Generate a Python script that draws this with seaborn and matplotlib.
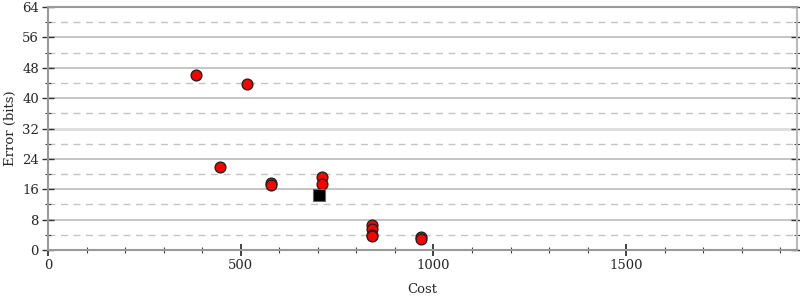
import matplotlib
matplotlib.use("Agg")
import matplotlib.pyplot as plt
import seaborn as sns
import pandas as pd
from matplotlib.ticker import MultipleLocator

sns.set_theme(style="white")
plt.rcParams['font.family'] = ['DejaVu Serif']

# Data
cost_red = [384, 516, 446, 579, 579, 711, 711, 841, 841, 841, 841, 968, 968]
error_red = [46.1, 43.7, 21.9, 17.6, 17.2, 19.2, 17.4, 6.5, 5.5, 3.9, 3.7, 3.5, 2.9]
cost_black = [703]
error_black = [14.5]

df = pd.DataFrame({
    "Cost": cost_red + cost_black,
    "Error": error_red + error_black,
    "kind": ["red"] * len(cost_red) + ["black"] * len(cost_black),
})

fig = plt.figure(figsize=(8, 3), dpi=100)
ax = fig.add_axes([48/800, 50/300, 749/800, 243/300])

# grid
for y in range(0, 65, 8):
    c = "#dddddd" if y == 32 else "#bbbbbb"
    lw = 2.0 if y == 32 else 1.2
    ax.axhline(y, color=c, lw=lw, zorder=0)
for y in range(4, 64, 8):
    ax.axhline(y, color="#c4c4c4", lw=1.0, ls=(0, (5, 4)), zorder=0)

sns.scatterplot(data=df[df.kind == "red"], x="Cost", y="Error", ax=ax,
                color="#ff0000", edgecolor="#222222", linewidth=1.0, s=60,
                marker="o", zorder=3, legend=False)
sns.scatterplot(data=df[df.kind == "black"], x="Cost", y="Error", ax=ax,
                color="#000000", edgecolor="#666666", linewidth=0.8, s=80,
                marker="s", zorder=3, legend=False)

ax.set_xlim(0, 1943)
ax.set_ylim(0, 64)
ax.xaxis.set_major_locator(MultipleLocator(500))
ax.xaxis.set_minor_locator(MultipleLocator(100))
ax.yaxis.set_major_locator(MultipleLocator(8))
ax.yaxis.set_minor_locator(MultipleLocator(4))

ax.tick_params(axis="x", which="major", direction="inout", length=9, width=1.2,
               color="#222222", labelsize=9.5, pad=2, bottom=True, top=False)
ax.tick_params(axis="x", which="minor", direction="inout", length=5, width=0.8,
               color="#444444", bottom=True, top=False)
ax.tick_params(axis="y", which="major", direction="inout", length=9, width=1.0,
               color="#333333", labelsize=9.5, pad=2, left=True, right=True)
ax.tick_params(axis="y", which="minor", direction="inout", length=5, width=0.8,
               color="#444444", left=True, right=True)

for s in ["left", "bottom", "top"]:
    ax.spines[s].set_color("#999999")
    ax.spines[s].set_linewidth(1.5)
ax.spines["right"].set_color("#bbbbbb")
ax.spines["right"].set_linewidth(1.5)

ax.set_xlabel("Cost", fontsize=9.5, labelpad=8)
ax.set_ylabel("Error (bits)", fontsize=9.5, labelpad=4)

fig.savefig("out.png", dpi=100)
